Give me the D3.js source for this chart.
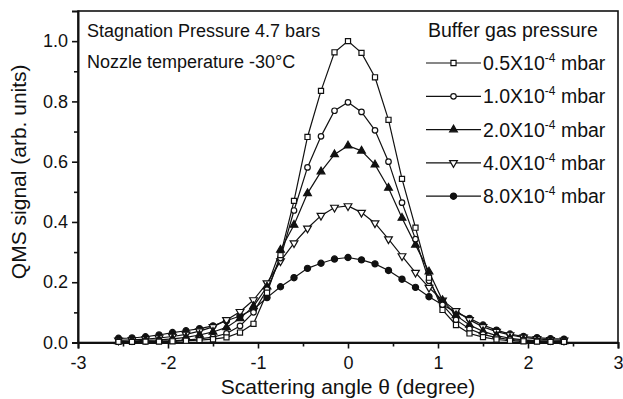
<!DOCTYPE html>
<html>
<head>
<meta charset="utf-8">
<script src="https://cdn.jsdelivr.net/npm/d3@7"></script>
<style>
  body { margin: 0; background: #fff; }
  text { font-family: Arial, "Liberation Sans", Helvetica, sans-serif; fill: #111; }
</style>
</head>
<body>
<div id="chart"></div>
<script>
// Scattering angle (degree)
var angles = [-2.55, -2.4, -2.25, -2.1, -1.95, -1.8, -1.65, -1.5, -1.35, -1.2, -1.05, -0.9,
    -0.75, -0.6, -0.45, -0.3, -0.15, 0, 0.15, 0.3, 0.45, 0.6, 0.75, 0.9,
    1.05, 1.2, 1.35, 1.5, 1.65, 1.8, 1.95, 2.1, 2.25, 2.4];

// QMS signal per buffer gas pressure
var p05 = [0.002, 0.002, 0.003, 0.003, 0.004, 0.006, 0.008, 0.011, 0.017, 0.033, 0.062, 0.165,
    0.29, 0.47, 0.682, 0.835, 0.963, 1.0, 0.961, 0.88, 0.739, 0.543, 0.381, 0.215,
    0.108, 0.058, 0.03, 0.018, 0.01, 0.006, 0.004, 0.003, 0.002, 0.002];
var p10 = [0.003, 0.003, 0.004, 0.005, 0.006, 0.008, 0.012, 0.018, 0.03, 0.055, 0.1, 0.175,
    0.28, 0.438, 0.581, 0.684, 0.769, 0.797, 0.765, 0.704, 0.6, 0.464, 0.343, 0.205,
    0.125, 0.075, 0.045, 0.027, 0.016, 0.01, 0.007, 0.005, 0.004, 0.003];
var p20 = [0.004, 0.005, 0.007, 0.009, 0.012, 0.017, 0.025, 0.035, 0.05, 0.08, 0.12, 0.185,
    0.307, 0.39, 0.495, 0.567, 0.624, 0.653, 0.636, 0.59, 0.513, 0.413, 0.324, 0.235,
    0.14, 0.09, 0.058, 0.037, 0.023, 0.014, 0.009, 0.006, 0.005, 0.004];
var p40 = [0.007, 0.009, 0.011, 0.015, 0.02, 0.027, 0.038, 0.052, 0.075, 0.102, 0.141, 0.197,
    0.27, 0.33, 0.379, 0.421, 0.448, 0.453, 0.431, 0.396, 0.343, 0.287, 0.232, 0.182,
    0.14, 0.105, 0.075, 0.052, 0.036, 0.025, 0.017, 0.012, 0.009, 0.007];
var p80 = [0.014, 0.015, 0.019, 0.025, 0.033, 0.039, 0.046, 0.055, 0.072, 0.088, 0.11, 0.149,
    0.185, 0.215, 0.246, 0.263, 0.277, 0.282, 0.274, 0.261, 0.239, 0.21, 0.183, 0.152,
    0.125, 0.1, 0.08, 0.058, 0.041, 0.028, 0.02, 0.016, 0.013, 0.011];

var legendLabels = ["0.5X10", "1.0X10", "2.0X10", "4.0X10", "8.0X10"];
var xTicks = [-3, -2, -1, 0, 1, 2, 3];
var yTicks = [0, 0.2, 0.4, 0.6, 0.8, 1.0];

var series = [
    { values: p05, label: legendLabels[0], shape: "square" },
    { values: p10, label: legendLabels[1], shape: "circle" },
    { values: p20, label: legendLabels[2], shape: "triUp" },
    { values: p40, label: legendLabels[3], shape: "triDown" },
    { values: p80, label: legendLabels[4], shape: "dot" }
];

// Set graph margins and dimensions
var margin = { top: 11, right: 5, bottom: 56.5, left: 78 },
    width = 623 - margin.left - margin.right,
    height = 399 - margin.top - margin.bottom;

var x = d3.scaleLinear().domain([-3, 3]).range([0, width]);
var y = d3.scaleLinear().domain([0, 1.1]).range([height, 0]);

var svg = d3.select("#chart").append("svg")
    .attr("width", 623)
    .attr("height", 399)
    .append("g")
    .attr("transform", "translate(" + margin.left + "," + margin.top + ")");

// Frame
svg.append("rect")
    .attr("width", width)
    .attr("height", height)
    .attr("fill", "none")
    .attr("stroke", "#111")
    .attr("stroke-width", 1.6);

// Minor ticks
var xMinor = d3.range(-2.5, 3, 1);
svg.append("g")
    .attr("transform", "translate(0," + height + ")")
    .call(d3.axisBottom(x).tickValues(xMinor).tickSize(4).tickFormat(""))
    .call(g => g.select(".domain").remove());
var yMinor = [0.1, 0.3, 0.5, 0.7, 0.9];
svg.append("g")
    .call(d3.axisLeft(y).tickValues(yMinor).tickSize(4).tickFormat(""))
    .call(g => g.select(".domain").remove());

// Add x axis (plain hyphen for negatives, as in the original)
var xAxis = svg.append("g")
    .attr("transform", "translate(0," + height + ")")
    .call(d3.axisBottom(x).tickValues(xTicks).tickSize(6).tickPadding(8)
        .tickFormat(function (d) { return (d < 0 ? "-" : "") + Math.abs(d); }));
xAxis.selectAll("text").style("font-size", "18px").attr("fill", "#111");

// Add y axis
var yAxis = svg.append("g")
    .call(d3.axisLeft(y).tickValues(yTicks).tickSize(6).tickPadding(4).tickFormat(d3.format(".1f")));
yAxis.selectAll("text").style("font-size", "18px").attr("fill", "#111");

svg.selectAll(".domain").attr("stroke-width", 2).attr("stroke", "#111");
svg.selectAll(".tick line").attr("stroke-width", 1.6).attr("stroke", "#111");

// Axis labels
svg.append("text")
    .attr("x", width / 2)
    .attr("y", height + 51)
    .attr("text-anchor", "middle")
    .style("font-size", "21px")
    .text("Scattering angle \u03B8 (degree)");

svg.append("text")
    .attr("transform", "rotate(-90)")
    .attr("x", -(height / 2) + 5)
    .attr("y", -52)
    .attr("text-anchor", "middle")
    .style("font-size", "21px")
    .text("QMS signal (arb. units)");

// Marker drawing
function marker(sel, shape) {
    var sym;
    if (shape === "square") sym = d3.symbol(d3.symbolSquare, 26);
    else if (shape === "circle") sym = d3.symbol(d3.symbolCircle, 24);
    else if (shape === "triUp" || shape === "triDown") sym = d3.symbol(d3.symbolTriangle, 26);
    else sym = d3.symbol(d3.symbolCircle, 30);
    sel.append("path")
        .attr("d", sym)
        .attr("transform", shape === "triDown" ? "rotate(180)" : null)
        .attr("fill", (shape === "triUp" || shape === "dot") ? "#111" : "#fff")
        .attr("stroke", "#111")
        .attr("stroke-width", 1.2);
}

var line = d3.line()
    .x(function (d, i) { return x(angles[i]); })
    .y(function (d) { return y(d); });

// Lines first, then markers on top
series.forEach(function (s) {
    svg.append("path")
        .datum(s.values)
        .attr("fill", "none")
        .attr("stroke", "#111")
        .attr("stroke-width", 1.2)
        .attr("d", line);
});
series.slice().reverse().forEach(function (s) {
    svg.append("g").selectAll("g")
        .data(s.values)
        .enter().append("g")
        .attr("transform", function (d, i) { return "translate(" + x(angles[i]) + "," + y(d) + ")"; })
        .each(function () { marker(d3.select(this), s.shape); });
});

// Annotation text
svg.append("text")
    .attr("x", 9)
    .attr("y", 26)
    .style("font-size", "18px")
    .text("Stagnation Pressure 4.7 bars");
svg.append("text")
    .attr("x", 9)
    .attr("y", 57)
    .style("font-size", "18px")
    .text("Nozzle temperature -30\u00B0C");

// Legend
var legend = svg.append("g")
    .attr("transform", "translate(" + (426 - margin.left) + "," + 0 + ")");
legend.append("text")
    .attr("x", 2)
    .attr("y", 26)
    .style("font-size", "19.5px")
    .text("Buffer gas pressure");

series.forEach(function (s, i) {
    var row = legend.append("g")
        .attr("transform", "translate(0," + (52 + i * 33.3) + ")");
    row.append("line")
        .attr("x1", 0).attr("x2", 55)
        .attr("stroke", "#111").attr("stroke-width", 1.2);
    var m = row.append("g").attr("transform", "translate(27.5,0)");
    marker(m, s.shape);
    var t = row.append("text")
        .attr("x", 57)
        .attr("y", 7)
        .style("font-size", "19.5px");
    t.append("tspan").text(s.label);
    t.append("tspan").attr("dy", -8).style("font-size", "12px").text("-4");
    t.append("tspan").attr("dy", 8).text(" mbar");
});
</script>
</body>
</html>
